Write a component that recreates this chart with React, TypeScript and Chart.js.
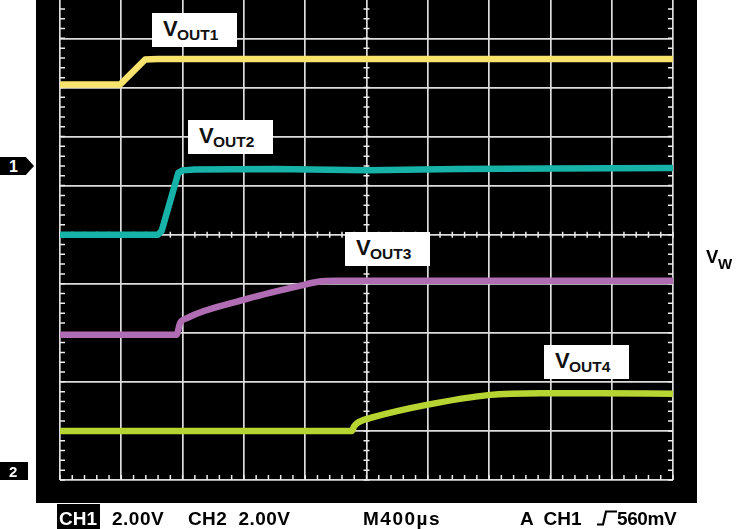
import React, { useEffect, useRef } from "react";
import { Chart, registerables } from "chart.js";

Chart.register(...registerables);

// Grid divisions (oscilloscope graticule)
const xDivisions = [0, 1, 2, 3, 4, 5, 6, 7, 8, 9, 10];
const yDivisions = [-5, -4, -3, -2, -1, 0, 1, 2, 3, 4];

// Trace data, in graticule divisions (x: time div, y: volt div)
const vout1X = [0, 0.98, 1.39, 1.6, 3, 5, 7, 10];
const vout1Y = [3.06, 3.06, 3.57, 3.58, 3.58, 3.58, 3.58, 3.58];

const vout2X = [0, 1.6, 1.66, 1.93, 2.0, 2.2, 3.5, 5.0, 6.5, 8, 10];
const vout2Y = [0, 0, 0.08, 1.26, 1.31, 1.33, 1.34, 1.31, 1.34, 1.35, 1.36];

const vout3X = [0, 1.9, 1.96, 2.07, 2.99, 3.92, 4.21, 4.5, 7, 10];
const vout3Y = [-2.04, -2.04, -1.8, -1.7, -1.33, -1.04, -0.96, -0.94, -0.94, -0.94];

const vout4X = [0, 4.76, 4.8, 4.89, 5.11, 5.98, 6.98, 7.83, 8.81, 10];
const vout4Y = [-4.0, -4.0, -3.9, -3.81, -3.72, -3.47, -3.27, -3.23, -3.23, -3.24];

const FONT = '"Liberation Sans", Arial, Helvetica, sans-serif';

const minorTicks = {
  id: "minorTicks",
  beforeDatasetsDraw(chart: any) {
    const { ctx, scales } = chart;
    const x = scales.x;
    const y = scales.y;
    ctx.save();
    ctx.strokeStyle = "#ececec";
    ctx.lineWidth = 1.5;
    ctx.beginPath();
    const x0 = x.getPixelForValue(0);
    const x5 = x.getPixelForValue(5);
    const x10 = x.getPixelForValue(10);
    const y0 = y.getPixelForValue(0);
    const yb = y.getPixelForValue(-5);
    for (let k = 0; k <= 50; k++) {
      const px = x.getPixelForValue(k * 0.2);
      ctx.moveTo(px, y0 - 3);
      ctx.lineTo(px, y0 + 3);
      ctx.moveTo(px, yb);
      ctx.lineTo(px, yb - 5);
    }
    for (let k = 0; k <= 50; k++) {
      const v = -5 + k * 0.2;
      const py = y.getPixelForValue(v);
      ctx.moveTo(x5 - 3, py);
      ctx.lineTo(x5 + 3, py);
      ctx.moveTo(x0, py);
      ctx.lineTo(x0 + 5, py);
      ctx.moveTo(x10, py);
      ctx.lineTo(x10 - 5, py);
    }
    ctx.stroke();
    ctx.restore();
  },
};

function toPoints(xs: number[], ys: number[]) {
  return xs.map((x, i) => ({ x, y: ys[i] }));
}

function Label({ left, top, sub }: { left: number; top: number; sub: string }) {
  return (
    <div
      style={{
        position: "absolute",
        left,
        top,
        width: 85,
        height: 34,
        background: "#ffffff",
        color: "#111",
        fontFamily: FONT,
        fontWeight: "bold",
      }}
    >
      <div style={{ position: "absolute", left: 11, top: 5, fontSize: 22, lineHeight: "22px" }}>V</div>
      <div style={{ position: "absolute", left: 25, top: 14, fontSize: 15.5, lineHeight: "15.5px" }}>{sub}</div>
    </div>
  );
}

function Txt({ left, text, color = "#000", spacing = 0 }: { left: number; text: string; color?: string; spacing?: number }) {
  return (
    <div
      style={{
        position: "absolute",
        left,
        top: 509,
        fontFamily: FONT,
        fontWeight: "bold",
        fontSize: 19,
        lineHeight: "19px",
        letterSpacing: spacing,
        color,
        whiteSpace: "pre",
      }}
    >
      {text}
    </div>
  );
}

export default function App() {
  const canvasRef = useRef<HTMLCanvasElement | null>(null);

  useEffect(() => {
    if (!canvasRef.current) return;
    const mk = (xs: number[], ys: number[], color: string, smooth: boolean) => ({
      data: toPoints(xs, ys),
      borderColor: color,
      borderWidth: 6.5,
      pointRadius: 0,
      borderJoinStyle: "round" as const,
      tension: 0,
      cubicInterpolationMode: smooth ? ("monotone" as const) : ("default" as const),
      clip: 0,
      fill: false,
    });
    const chart = new Chart(canvasRef.current, {
      type: "line",
      data: {
        datasets: [
          mk(vout1X, vout1Y, "#f8e46c", false),
          mk(vout2X, vout2Y, "#17b3a9", false),
          mk(vout3X, vout3Y, "#b16db4", true),
          mk(vout4X, vout4Y, "#b6d432", true),
        ],
      },
      options: {
        responsive: false,
        animation: false,
        devicePixelRatio: 1,
        layout: { padding: { left: 60, right: 67, top: 0, bottom: 49 } },
        plugins: { legend: { display: false }, tooltip: { enabled: false } },
        events: [],
        scales: {
          x: {
            type: "linear",
            min: 0,
            max: 10,
            afterBuildTicks: (s: any) => {
              s.ticks = xDivisions.map((v) => ({ value: v }));
            },
            ticks: { display: false },
            grid: { color: "#dcdcdc", lineWidth: 1.7, drawTicks: false },
            border: { display: false },
          },
          y: {
            type: "linear",
            min: -5,
            max: 4.782,
            afterBuildTicks: (s: any) => {
              s.ticks = yDivisions.map((v) => ({ value: v }));
            },
            ticks: { display: false },
            grid: { color: "#dcdcdc", lineWidth: 1.7, drawTicks: false },
            border: { display: false },
          },
        },
      },
      plugins: [minorTicks],
    });
    return () => chart.destroy();
  }, []);

  return (
    <div
      style={{
        position: "fixed",
        left: 0,
        top: 0,
        width: 740,
        height: 529,
        background: "#ffffff",
        overflow: "hidden",
      }}
    >
      <div style={{ position: "absolute", left: 36, top: 0, width: 661, height: 503, background: "#000" }} />
      <canvas
        ref={canvasRef}
        width={740}
        height={529}
        style={{ position: "absolute", left: 0, top: 0, width: 740, height: 529 }}
      />
      <Label left={152} top={13} sub="OUT1" />
      <Label left={188} top={120} sub="OUT2" />
      <Label left={345} top={232} sub="OUT3" />
      <Label left={544} top={345} sub="OUT4" />

      {/* channel markers */}
      <div
        style={{
          position: "absolute",
          left: 0,
          top: 157,
          width: 34,
          height: 18,
          background: "#000",
          clipPath: "polygon(0 0, 76% 0, 100% 50%, 76% 100%, 0 100%)",
          color: "#fff",
          fontFamily: FONT,
          fontWeight: "bold",
          fontSize: 16,
          lineHeight: "18px",
        }}
      >
        <span style={{ position: "absolute", left: 9, top: 1 }}>1</span>
      </div>
      <div
        style={{
          position: "absolute",
          left: 0,
          top: 462,
          width: 28,
          height: 18,
          background: "#000",
          color: "#fff",
          fontFamily: FONT,
          fontWeight: "bold",
          fontSize: 15,
          lineHeight: "18px",
        }}
      >
        <span style={{ position: "absolute", left: 9, top: 1 }}>2</span>
      </div>

      {/* VW */}
      <div style={{ position: "absolute", left: 706, top: 247.6, fontFamily: FONT, fontWeight: "bold", fontSize: 18.5, lineHeight: "18.5px" }}>V</div>
      <div style={{ position: "absolute", left: 718, top: 256.3, fontFamily: FONT, fontWeight: "bold", fontSize: 15, lineHeight: "15px" }}>W</div>

      {/* bottom status line */}
      <div style={{ position: "absolute", left: 57, top: 504, width: 43, height: 25, background: "#000" }} />
      <Txt left={59} text="CH1" color="#fff" />
      <Txt left={112} text="2.00V" spacing={0.5} />
      <Txt left={188} text="CH2  2.00V" spacing={0.4} />
      <Txt left={363} text="M400µs" spacing={1.5} />
      <Txt left={520} text="A  CH1" />
      <svg style={{ position: "absolute", left: 596, top: 509, width: 22, height: 18 }} viewBox="0 0 22 18">
        <path d="M1 15.5 H7 L10 2.5 H21" stroke="#000" strokeWidth={2.2} fill="none" />
      </svg>
      <Txt left={617} text="560mV" spacing={-0.4} />
    </div>
  );
}
